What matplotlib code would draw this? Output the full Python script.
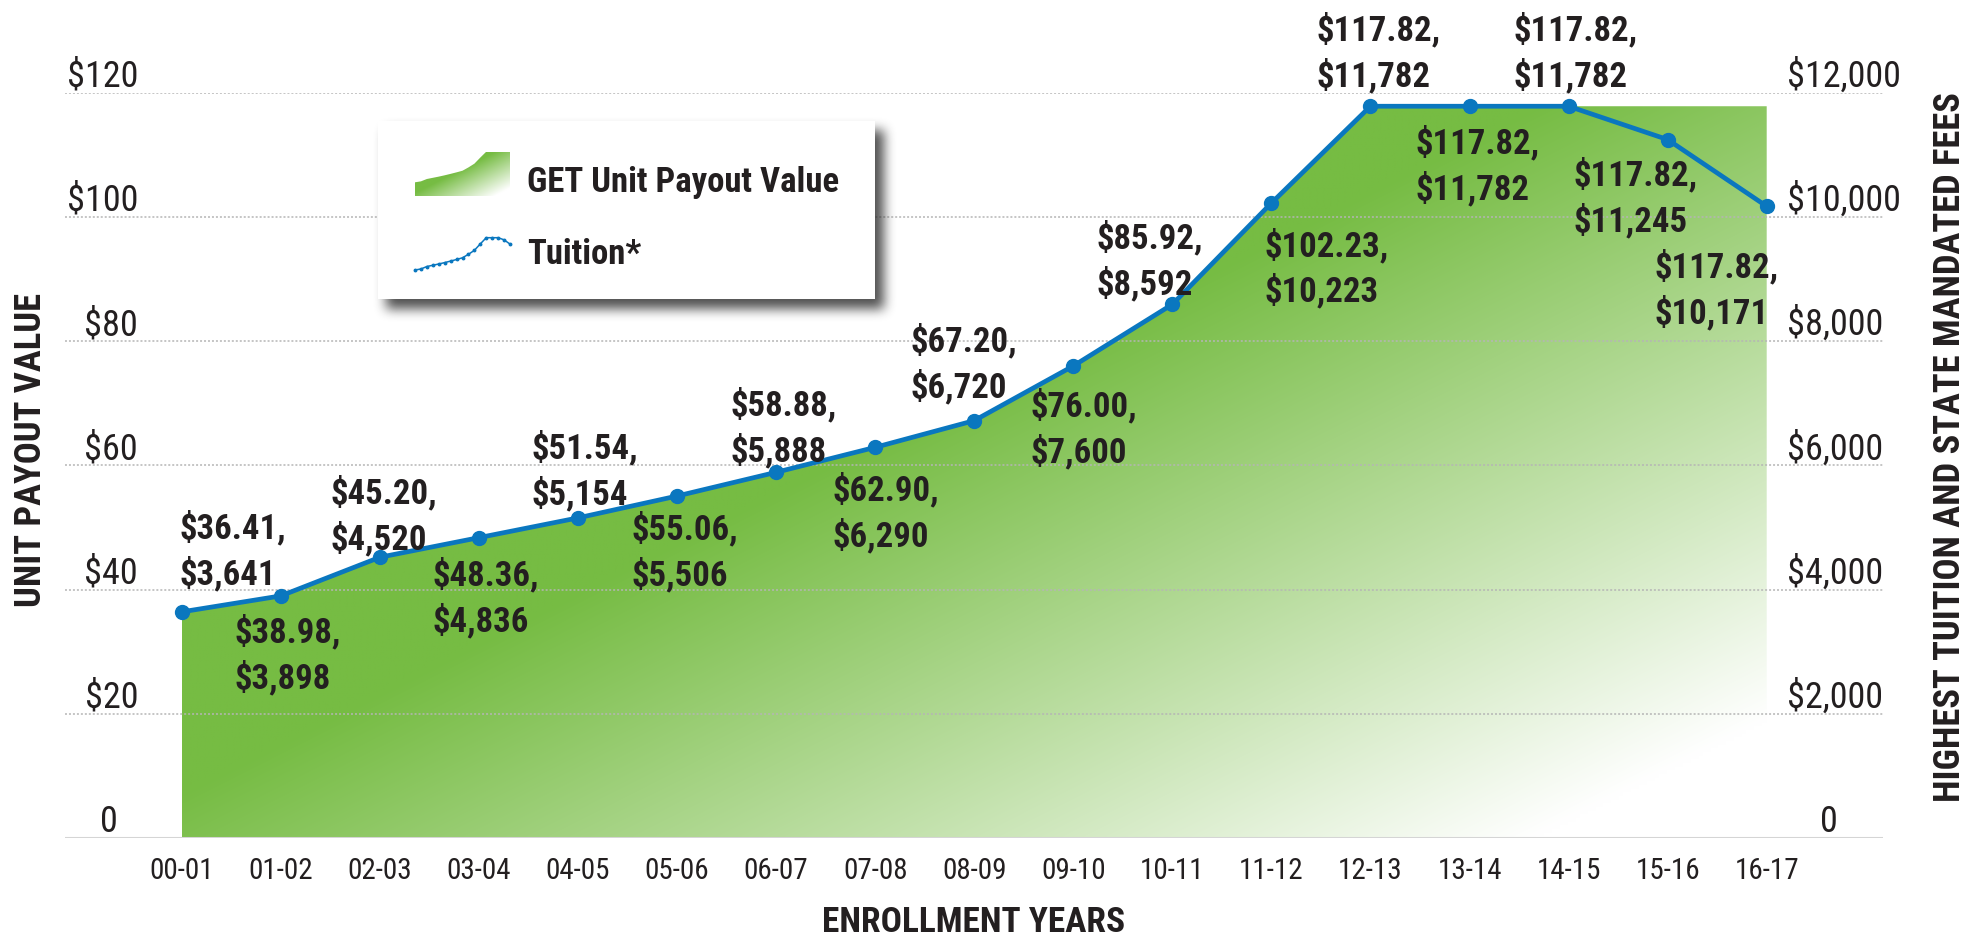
import numpy as np
import matplotlib
matplotlib.use("Agg")
import matplotlib.pyplot as plt
from matplotlib import font_manager, transforms
from matplotlib.patches import Rectangle
from matplotlib.colors import to_rgb

# data
years = ["00-01", "01-02", "02-03", "03-04", "04-05", "05-06", "06-07", "07-08", "08-09",
         "09-10", "10-11", "11-12", "12-13", "13-14", "14-15", "15-16", "16-17"]
unit_value = [36.41, 38.98, 45.20, 48.36, 51.54, 55.06, 58.88, 62.90, 67.20,
              76.00, 85.92, 102.23, 117.82, 117.82, 117.82, 117.82, 117.82]
tuition = [3641, 3898, 4520, 4836, 5154, 5506, 5888, 6290, 6720,
           7600, 8592, 10223, 11782, 11782, 11782, 11245, 10171]
left_ticks = [0, 20, 40, 60, 80, 100, 120]
left_labels = ["0", "$20", "$40", "$60", "$80", "$100", "$120"]
right_ticks = [0, 2000, 4000, 6000, 8000, 10000, 12000]
right_labels = ["0", "$2,000", "$4,000", "$6,000", "$8,000", "$10,000", "$12,000"]

# where each value label sits, in pixels from its point
label_offsets = [(-2, 65), (-46, -55), (-49, 46), (-46, -56), (-46, 51), (-46, -52),
                 (-46, 49), (-43, -61), (-64, 61), (-43, -59), (-76, 48), (-7, -61),
                 (-54, 58), (-54, -55), (-55, 58), (-94, -54), (-112, -79)]

GREEN = "#76bc43"
BLUE = "#0a77bf"
TEXT = "#231f20"

names = {f.name for f in font_manager.fontManager.ttflist}
NARROW = next((n for n in ["Roboto Condensed", "PT Sans Narrow", "Liberation Sans Narrow"]
               if n in names), "DejaVu Sans")

W, H = 1975, 938
fig = plt.figure(figsize=(W / 100, H / 100), dpi=100)


def px_axes(x0, y0, x1, y1, z):
    return fig.add_axes([x0 / W, 1 - y1 / H, (x1 - x0) / W, (y1 - y0) / H], zorder=z)


def gradient(nx, ny):
    u = np.linspace(0, 1, nx)[None, :]
    v = np.linspace(0, 1, ny)[:, None]
    f = np.clip(1.1 * u + v - 0.94, 0, 1)[..., None]
    return np.array(to_rgb(GREEN)) * (1 - f) + f


ax = px_axes(65, 92.7, 1883, 838, 1)
x = np.arange(len(years))
for s in ax.spines.values():
    s.set_visible(False)

# gradient area
poly = ax.fill_between(x, unit_value, 0, facecolor="none", edgecolor="none")
im = ax.imshow(gradient(400, 200), extent=(x[0], x[-1], 0, max(unit_value)),
               origin="upper", aspect="auto", interpolation="bilinear", zorder=1)
im.set_clip_path(poly.get_paths()[0], transform=ax.transData)
ax.set_xlim(-1.178, 17.174)
ax.set_ylim(0, 120)

for t in left_ticks[1:]:
    ax.axhline(t, color="#b5b5b5", lw=1.1, ls=(0, (1.3, 1.3)), zorder=2)
ax.axhline(0, color="#d5d5d5", lw=2.2, zorder=2)

ax.set_xticks(x)
ax.set_xticklabels(years, fontsize=21, family=NARROW, color=TEXT)
ax.set_yticks([])
ax.tick_params(axis="x", length=0, pad=14)

lt = transforms.offset_copy(ax.get_yaxis_transform(), fig=fig, y=6, units="dots")
for t, lab in zip(left_ticks, left_labels):
    if lab.startswith("$"):
        ax.text(0.0402, t, lab, transform=lt, ha="right", va="baseline",
                fontsize=26, family=NARROW, color=TEXT)
    else:
        ax.text(0.0242, t, lab, transform=lt, ha="center", va="baseline",
                fontsize=26, family=NARROW, color=TEXT)

ax2 = ax.twinx()
ax2.set_ylim(0, 12000)
ax2.set_yticks([])
for s in ax2.spines.values():
    s.set_visible(False)
ax2.plot(x, tuition, color=BLUE, lw=3.4, marker="o", ms=10, zorder=3, clip_on=False)

rt = transforms.offset_copy(ax2.get_yaxis_transform(), fig=fig, y=6, units="dots")
for t, lab in zip(right_ticks, right_labels):
    if lab.startswith("$"):
        ax2.text(0.947, t, lab, transform=rt, ha="left", va="baseline",
                 fontsize=26, family=NARROW, color=TEXT)
    else:
        ax2.text(0.9703, t, lab, transform=rt, ha="center", va="baseline",
                 fontsize=26, family=NARROW, color=TEXT)

for i, (u, t) in enumerate(zip(unit_value, tuition)):
    dx, dy = label_offsets[i]
    ax2.annotate(f"${u:.2f},\n${t:,}", (x[i], t), xytext=(dx, dy - 4),
                 textcoords="offset pixels", ha="left", va="center",
                 fontsize=25, fontweight="bold", family=NARROW, color=TEXT,
                 linespacing=1.36, annotation_clip=False)

fig.text(974 / W, 1 - 922 / H, "ENROLLMENT YEARS", ha="center", va="center",
         fontsize=25.5, fontweight="bold", family=NARROW, color=TEXT)
fig.text(31 / W, 1 - 450 / H, "UNIT PAYOUT VALUE", rotation=90, ha="center", va="center",
         fontsize=26.3, fontweight="bold", family=NARROW, color=TEXT)
fig.text(1950 / W, 1 - 447 / H, "HIGHEST TUITION AND STATE MANDATED FEES", rotation=90,
         ha="center", va="center", fontsize=26.3, fontweight="bold", family=NARROW, color=TEXT)

# legend box with drop shadow
ov = fig.add_axes([0, 0, 1, 1], zorder=5)
ov.axis("off")
bx0, by0, bx1, by1 = 378, 121, 875, 299
pad = 40
sx0, sy0, sx1, sy1 = bx0 - pad, by0 - pad, bx1 + pad, by1 + pad
yy, xx = np.mgrid[sy0:sy1, sx0:sx1]
mask = ((xx >= bx0 + 8) & (xx <= bx1 + 8) & (yy >= by0 + 9) & (yy <= by1 + 9)).astype(float)
k = np.ones(11) / 11
for _ in range(3):
    mask = np.apply_along_axis(lambda m: np.convolve(m, k, mode="same"), 0, mask)
    mask = np.apply_along_axis(lambda m: np.convolve(m, k, mode="same"), 1, mask)
shadow = np.zeros(mask.shape + (4,))
shadow[..., :3] = 0.15
shadow[..., 3] = 0.8 * mask
ov.imshow(shadow, extent=(sx0, sx1, sy1, sy0), origin="upper", aspect="auto",
          interpolation="bilinear", zorder=1)
ov.add_patch(Rectangle((bx0, by0), bx1 - bx0, by1 - by0, facecolor="white",
                       edgecolor="none", zorder=2))
ov.set_xlim(0, W)
ov.set_ylim(H, 0)
ov.text(526.7, 191.7, "GET Unit Payout Value", va="baseline", fontsize=25,
        fontweight="bold", family=NARROW, color=TEXT, zorder=3)
ov.text(526.7, 264, "Tuition*", va="baseline", fontsize=25,
        fontweight="bold", family=NARROW, color=TEXT, zorder=3)

sw1 = px_axes(415, 151.7, 510, 196, 6)
sw1.axis("off")
p1 = sw1.fill_between(x, unit_value, 0, facecolor="none", edgecolor="none")
im1 = sw1.imshow(gradient(80, 40), extent=(x[0], x[-1], 0, max(unit_value)),
                 origin="upper", aspect="auto", interpolation="bilinear")
im1.set_clip_path(p1.get_paths()[0], transform=sw1.transData)
sw1.set_xlim(x[0], x[-1])
sw1.set_ylim(0, max(unit_value))

sw2 = px_axes(415, 237.7, 510, 270, 6)
sw2.axis("off")
sw2.plot(x, tuition, color=BLUE, lw=1.1, marker="o", ms=1.8, clip_on=False)
sw2.set_xlim(x[0], x[-1])
sw2.set_ylim(min(tuition), max(tuition))

fig.savefig("out.png", dpi=100)
